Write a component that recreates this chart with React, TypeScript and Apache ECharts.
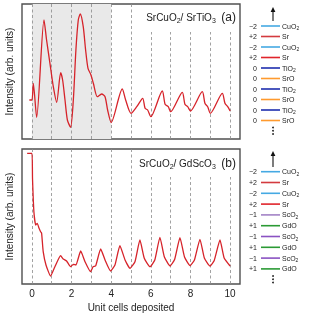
import React, { useEffect, useRef } from "react";
import * as echarts from "echarts";

// Panel (a): SrCuO2 / SrTiO3 — x in unit cells, intensity (arb. units)
const topX = [-0.13, 0.0, 0.07, 0.24, 0.61, 0.74, 0.91, 1.08, 1.25, 1.45, 1.55, 1.67, 1.79, 1.95, 2.09, 2.22, 2.34, 2.44, 2.59, 2.71, 2.83, 2.98, 3.1, 3.3, 3.52, 3.69, 3.82, 4.0, 4.56, 4.73, 5.0, 5.29, 5.59, 5.71, 5.84, 6.0, 6.58, 6.72, 6.88, 7.0, 7.59, 7.72, 7.86, 8.0, 8.6, 8.73, 8.87, 9.0, 9.61, 9.74, 9.88, 10.0];
const topY = [39, 39, 55.7, 21.7, 119, 99, 75.7, 52.3, 36.7, 66.3, 59, 39, 19, 11.7, 39, 89, 119, 125, 112.3, 89, 70.7, 64, 55.7, 42.3, 45, 42.3, 29, 16.5, 50, 39, 25.7, 32.3, 40.7, 30.7, 29, 22.3, 48, 34.7, 32.3, 27.3, 46.7, 34.7, 32.3, 28, 47.3, 35.7, 32.3, 25.7, 45.7, 35.7, 32.3, 28];

// Panel (b): SrCuO2 / GdScO3
const botX = [-0.24, 0.0, 0.03, 0.1, 0.19, 0.27, 0.35, 0.44, 0.49, 0.57, 0.71, 0.94, 1.16, 1.45, 1.58, 1.75, 1.95, 2.09, 2.22, 2.46, 2.68, 2.96, 3.09, 3.22, 3.47, 3.69, 3.97, 4.19, 4.44, 4.7, 4.95, 5.2, 5.45, 5.67, 5.96, 6.2, 6.46, 6.68, 6.97, 7.2, 7.47, 7.7, 7.98, 8.2, 8.48, 8.7, 8.99, 9.2, 9.49, 9.7, 10.0];
const botY = [130.7, 130.7, 105.7, 72.3, 59, 60.7, 56.3, 52.3, 50.7, 32.3, 19, 8, 17.3, 28.3, 25, 23, 17.3, 19.7, 19, 33, 22.3, 12.3, 17.3, 18.3, 35, 24, 13, 19, 38.3, 24, 15.7, 22.3, 44, 25.7, 17.3, 24, 46.7, 27.3, 18, 24.5, 46.3, 27, 18.3, 24, 44.7, 26, 18, 23.5, 44, 26, 18];

const xTickLabels = [0, 2, 4, 6, 8, 10];
const fullDashX = [0, 1, 2, 3, 4, 5];
const shortDashX = [6, 7, 8, 9, 10];
const shadedRange = [0, 4];

const topLayers = ["CuO2", "Sr", "CuO2", "Sr", "TiO2", "SrO", "TiO2", "SrO", "TiO2", "SrO"];
const topCharges = ["\u22122", "+2", "\u22122", "+2", "0", "0", "0", "0", "0", "0"];
const topColors = ["#45a9e3", "#d33a3f", "#45a9e3", "#e0242b", "#1f2fae", "#ff9a2e", "#1f2fae", "#ff9a2e", "#1f2fae", "#ff9a2e"];

const botLayers = ["CuO2", "Sr", "CuO2", "Sr", "ScO2", "GdO", "ScO2", "GdO", "ScO2", "GdO"];
const botCharges = ["\u22122", "+2", "\u22122", "+2", "\u22121", "+1", "\u22121", "+1", "\u22121", "+1"];
const botColors = ["#45a9e3", "#d33a3f", "#45a9e3", "#e0242b", "#a383c6", "#2b9a35", "#8a52c2", "#2b9a35", "#8a52c2", "#2b9a35"];

const FONT = "Liberation Sans, Arial, sans-serif";
const LINE_COLOR = "#d6232a";

function chemRich(label: string): string {
  const m = label.match(/^(.*?)(\d+)$/);
  if (m) return `{n|${m[1]}}{s|${m[2]}}`;
  return `{n|${label}}`;
}

export default function App() {
  const ref = useRef<HTMLDivElement>(null);
  useEffect(() => {
    if (!ref.current) return;
    const chart = echarts.init(ref.current, null, { renderer: "svg" });

    const dashStyle = { type: [3, 2.5] as any, color: "#8a8a8a", width: 0.8 };
    const markLine = {
      silent: true,
      symbol: ["none", "none"],
      label: { show: false },
      lineStyle: dashStyle,
      data: [
        ...fullDashX.map((x) => ({ xAxis: x })),
        ...shortDashX.map((x) => [{ coord: [x, 0] }, { coord: [x, 107] }]),
      ],
    };

    const legendGraphics: any[] = [];
    const buildLegend = (layers: string[], charges: string[], colors: string[], y0: number, dy: number, arrowTop: number, arrowBot: number) => {
      legendGraphics.push({
        type: "line",
        shape: { x1: 273, y1: arrowBot, x2: 273, y2: arrowTop + 4 },
        style: { stroke: "#111", lineWidth: 1.1 },
      });
      legendGraphics.push({
        type: "polygon",
        shape: { points: [[270.6, arrowTop + 5], [275.4, arrowTop + 5], [273, arrowTop]] },
        style: { fill: "#111" },
      });
      layers.forEach((lab, i) => {
        const y = y0 + i * dy;
        legendGraphics.push({
          type: "text",
          x: 257,
          y,
          style: { text: charges[i], font: `7px ${FONT}`, fill: "#222", align: "right", verticalAlign: "middle" },
        });
        legendGraphics.push({
          type: "line",
          shape: { x1: 261, y1: y, x2: 280, y2: y },
          style: { stroke: colors[i], lineWidth: 1.6 },
        });
        legendGraphics.push({
          type: "text",
          x: 282,
          y,
          style: {
            text: chemRich(lab),
            align: "left",
            verticalAlign: "middle",
            rich: {
              n: { fontSize: 7, fontFamily: FONT, fill: "#222", lineHeight: 9, verticalAlign: "middle" },
              s: { fontSize: 5, fontFamily: FONT, fill: "#222", lineHeight: 9, verticalAlign: "bottom" },
            },
          },
        });
      });
      const yd = y0 + (layers.length - 1) * dy + 7;
      [0, 3.3, 6.6].forEach((d) => {
        legendGraphics.push({ type: "circle", shape: { cx: 273, cy: yd + d, r: 0.85 }, style: { fill: "#111" } });
      });
    };
    buildLegend(topLayers, topCharges, topColors, 26, 10.5, 7, 21);
    buildLegend(botLayers, botCharges, botColors, 171.7, 10.8, 151, 167);

    const titleRich = {
      n: { fontSize: 10, fontFamily: FONT, fill: "#222", lineHeight: 14, verticalAlign: "middle" },
      s: { fontSize: 7, fontFamily: FONT, fill: "#222", lineHeight: 14, verticalAlign: "bottom" },
      b: { fontSize: 12, fontFamily: FONT, fill: "#222", lineHeight: 14, verticalAlign: "middle" },
    };

    const makeX = (gi: number, showLabels: boolean) => ({
      type: "value",
      gridIndex: gi,
      min: -0.5,
      max: 10.5,
      axisLine: { show: false },
      axisTick: { show: false },
      splitLine: { show: false },
      axisLabel: showLabels
        ? { show: true, customValues: xTickLabels, fontSize: 10, fontFamily: FONT, color: "#222", margin: 4 }
        : { show: false },
      name: showLabels ? "Unit cells deposited" : "",
      nameLocation: "middle",
      nameGap: 18,
      nameTextStyle: { fontSize: 10, fontFamily: FONT, color: "#222" },
    });
    const makeY = (gi: number) => ({
      type: "value",
      gridIndex: gi,
      min: 0,
      max: 135,
      axisLine: { show: false },
      axisTick: { show: false },
      splitLine: { show: false },
      axisLabel: { show: false },
      name: "Intensity (arb. units)",
      nameLocation: "middle",
      nameGap: 8,
      nameTextStyle: { fontSize: 10, fontFamily: FONT, color: "#222" },
    });

    chart.setOption({
      animation: false,
      grid: [
        { left: 22, top: 4, width: 218, height: 135, show: true, borderColor: "#505050", borderWidth: 1.4, backgroundColor: "transparent", containLabel: false, outerBoundsMode: "none" },
        { left: 22, top: 149, width: 218, height: 135, show: true, borderColor: "#505050", borderWidth: 1.4, backgroundColor: "transparent", containLabel: false, outerBoundsMode: "none" },
      ],
      xAxis: [makeX(0, false), makeX(1, true)],
      yAxis: [makeY(0), makeY(1)],
      series: [
        {
          type: "line",
          xAxisIndex: 0,
          yAxisIndex: 0,
          data: topX.map((x, i) => [x, topY[i]]),
          showSymbol: false,
          smooth: 0.25,
          lineStyle: { color: LINE_COLOR, width: 1.3 },
          z: 5,
          markArea: {
            silent: true,
            itemStyle: { color: "#e9e9e9" },
            data: [[{ xAxis: shadedRange[0] }, { xAxis: shadedRange[1] }]],
          },
          markLine,
        },
        {
          type: "line",
          xAxisIndex: 1,
          yAxisIndex: 1,
          data: botX.map((x, i) => [x, botY[i]]),
          showSymbol: false,
          smooth: 0.15,
          lineStyle: { color: LINE_COLOR, width: 1.3 },
          z: 5,
          markLine,
        },
      ],
      graphic: [
        {
          type: "text",
          x: 236,
          y: 17,
          style: {
            text: "{n|SrCuO}{s|2}{n|/ SrTiO}{s|3}{n|  }{b|(a)}",
            align: "right",
            verticalAlign: "middle",
            rich: titleRich,
          },
        },
        {
          type: "text",
          x: 236,
          y: 163,
          style: {
            text: "{n|SrCuO}{s|2}{n|/ GdScO}{s|3}{n|  }{b|(b)}",
            align: "right",
            verticalAlign: "middle",
            rich: titleRich,
          },
        },
        ...legendGraphics,
      ],
    });
    return () => chart.dispose();
  }, []);
  return (
    <div
      ref={ref}
      style={{ position: "fixed", left: 0, top: 0, width: 309, height: 313 }}
    />
  );
}
